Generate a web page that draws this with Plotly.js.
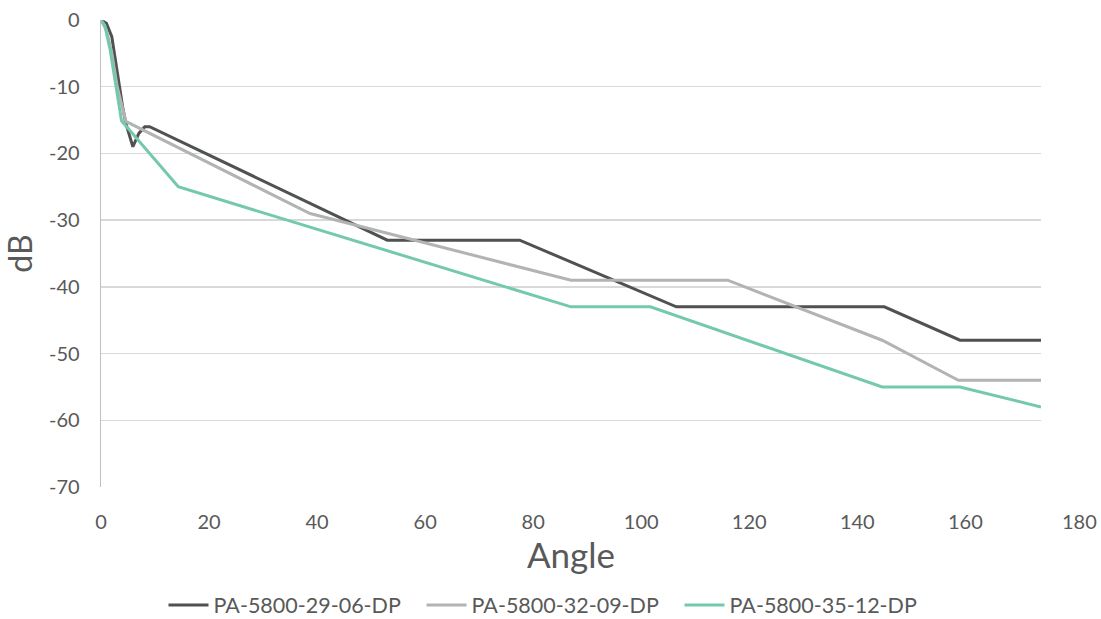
<!DOCTYPE html>
<html>
<head>
<meta charset="utf-8">
<script src="https://cdn.plot.ly/plotly-3.0.1.min.js"></script>
<style>html,body{margin:0;padding:0;background:#fff;}#chart{width:1101px;height:619px;}</style>
</head>
<body>
<div id="chart"></div>
<script>
const seriesNames = ["PA-5800-29-06-DP", "PA-5800-32-09-DP", "PA-5800-35-12-DP"];

const angle29 = [0, 1, 2, 3, 4, 4.6, 5.9, 7, 8.1, 9, 53, 77.5, 106.5, 145, 159, 174];
const db29    = [0, -0.5, -2.5, -8, -13, -15.5, -19, -17, -16, -16, -33, -33, -43, -43, -48, -48];

const angle32 = [0, 1, 2, 3, 4.6, 38.7, 87, 116, 144.6, 158.7, 174];
const db32    = [0, -1.5, -5, -10, -15.2, -29, -39, -39, -48, -54, -54];

const angle35 = [0, 0.7, 1.7, 2.9, 3.8, 14.3, 87, 101.7, 144.6, 159, 174];
const db35    = [0, -0.8, -4.5, -10.5, -15.1, -25, -43, -43, -55, -55, -58];

const xTicks = [0, 20, 40, 60, 80, 100, 120, 140, 160];
const extraTick = "180";
const yTicks = [0, -10, -20, -30, -40, -50, -60, -70];
const yTickText = ["0", "-10", "-20", "-30", "-40", "-50", "-60", "-70"];

const colors = ["#4f5152", "#b2b3b3", "#74c9ad"];

const traces = [
  {x: angle29, y: db29, name: seriesNames[0]},
  {x: angle32, y: db32, name: seriesNames[1]},
  {x: angle35, y: db35, name: seriesNames[2]}
].map((t, i) => Object.assign(t, {
  type: "scatter", mode: "lines",
  line: {color: colors[i], width: 3},
  hoverinfo: "x+y"
}));

const font = {family: "Lato, 'Open Sans', sans-serif", color: "#595959"};

const layout = {
  width: 1101, height: 619,
  margin: {l: 101, r: 60, t: 20, b: 132},
  paper_bgcolor: "#fff", plot_bgcolor: "#fff",
  font: Object.assign({size: 20}, font),
  showlegend: true,
  legend: {
    orientation: "h", xref: "container", yref: "container",
    x: 0.5, xanchor: "center", y: 1 - 605 / 619, yanchor: "middle",
    font: Object.assign({size: 21.5}, font),
    traceorder: "normal", itemwidth: 40,
    entrywidth: 203, entrywidthmode: "pixels"
  },
  xaxis: {
    range: [0, 174],
    tickvals: xTicks,
    ticktext: xTicks.map(String),
    showgrid: false, zeroline: false,
    showline: false, ticks: "",
    ticklabelstandoff: 21,
    tickfont: Object.assign({size: 20}, font),
    title: {text: "Angle", font: Object.assign({size: 35}, font), standoff: 10}
  },
  yaxis: {
    range: [-70, 0],
    tickvals: yTicks,
    ticktext: yTickText,
    showgrid: true, gridcolor: "#d9d9d9", gridwidth: 1.3,
    zeroline: false,
    showline: true, linecolor: "#bfbfbf", linewidth: 1.3,
    ticks: "", ticklabelstandoff: 16,
    tickfont: Object.assign({size: 20}, font),
    title: {text: "dB", font: Object.assign({size: 32}, font), standoff: 12}
  },
  annotations: [{
    text: extraTick, xref: "paper", yref: "paper",
    x: (1079 - 101) / 940, y: 0, xanchor: "center", yanchor: "top",
    yshift: -20, showarrow: false,
    font: Object.assign({size: 20}, font)
  }]
};

Plotly.newPlot("chart", traces, layout, {displayModeBar: false, staticPlot: true});
</script>
</body>
</html>
